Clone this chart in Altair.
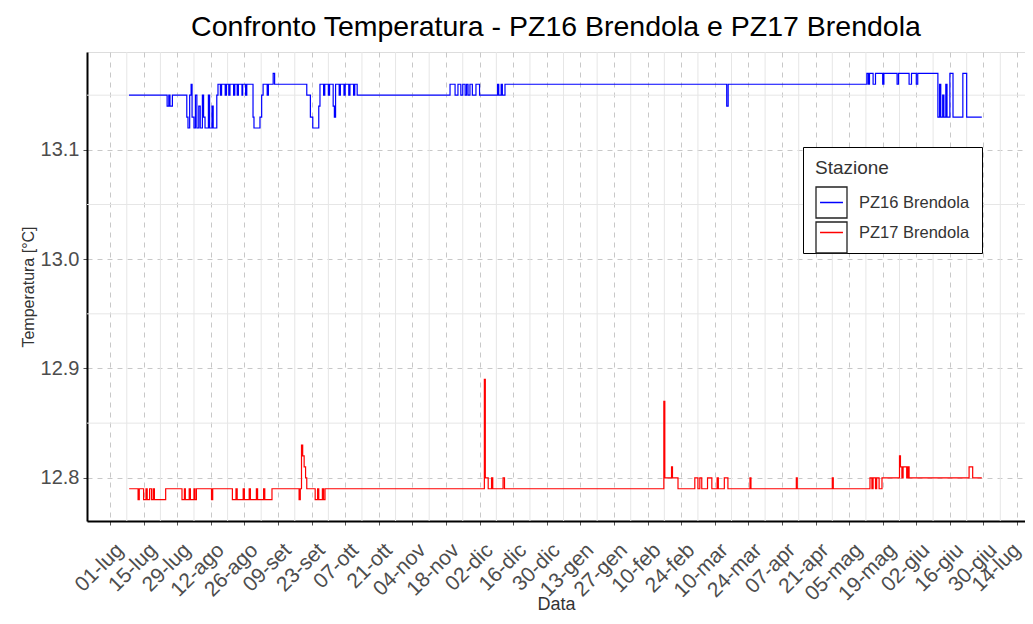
import altair as alt
import pandas as pd

START = pd.Timestamp("2022-07-01")

# ---- data (day offset from 01-lug, temperature), step changes ----
pz16_days = [7.9, 23.8, 24.5, 25.0, 26.0, 32.0, 32.5, 33.2, 33.8, 34.2, 35.0, 35.6, 36.2, 37.0,
             37.6, 38.5, 39.0, 39.6, 41.0, 41.5, 42.5, 43.0, 44.5, 45.0, 46.0, 46.5, 48.0, 48.5,
             49.5, 50.0, 51.5, 52.0, 53.0, 53.5, 55.0, 55.3, 56.5, 57.0, 59.6, 60.0, 62.5, 63.2,
             63.8, 65.5, 66.0, 68.0, 68.6, 82.0, 83.5, 84.5, 87.0, 87.5, 89.0, 89.5, 91.0, 91.5,
             93.0, 93.5, 94.0, 95.5, 96.0, 97.5, 98.0, 99.5, 100.0, 101.5, 102.0, 103.0,
             141.7, 143.8, 145.0, 146.2, 147.0, 148.0, 148.6, 149.2, 150.0, 151.0, 152.5, 154.0,
             155.5, 161.5, 162.0, 163.0, 163.5, 164.6,
             257.0, 257.6, 315.4, 316.0, 316.5, 318.0, 319.0, 322.0, 322.5, 328.0, 328.6, 333.0,
             334.0, 336.0, 336.6, 345.0, 345.7, 346.2, 347.0, 347.5, 348.3, 348.8, 350.0, 351.3,
             355.4, 357.0, 363.3]
pz16_vals = [13.15, 13.14, 13.15, 13.14, 13.15, 13.13, 13.12, 13.15, 13.16, 13.13, 13.12, 13.15, 13.12, 13.14,
             13.12, 13.15, 13.13, 13.12, 13.15, 13.12, 13.14, 13.12, 13.15, 13.16, 13.15, 13.16, 13.15, 13.16,
             13.15, 13.16, 13.15, 13.16, 13.15, 13.16, 13.15, 13.16, 13.15, 13.16, 13.13, 13.12, 13.13, 13.15,
             13.16, 13.15, 13.16, 13.17, 13.16, 13.15, 13.13, 13.12, 13.14, 13.16, 13.15, 13.16, 13.15, 13.16,
             13.14, 13.13, 13.16, 13.15, 13.16, 13.15, 13.16, 13.15, 13.16, 13.15, 13.16, 13.15,
             13.16, 13.15, 13.16, 13.15, 13.16, 13.15, 13.16, 13.15, 13.16, 13.15, 13.16, 13.15,
             13.15, 13.16, 13.15, 13.16, 13.15, 13.16,
             13.14, 13.16, 13.17, 13.16, 13.17, 13.16, 13.17, 13.16, 13.17, 13.16, 13.17, 13.16,
             13.17, 13.16, 13.17, 13.13, 13.16, 13.13, 13.15, 13.13, 13.16, 13.13, 13.17, 13.13,
             13.17, 13.13, 13.13]

pz17_days = [8.0, 11.7, 12.2, 14.0, 15.0, 15.5, 16.5, 17.3, 18.0, 18.5, 23.2, 30.0, 31.0, 31.4,
             33.0, 33.5, 35.0, 35.4, 36.0, 42.3, 42.8, 51.0, 52.5, 53.0, 55.5, 56.0, 58.0, 58.5,
             61.0, 61.5, 64.0, 64.5, 67.5, 78.8, 79.3, 79.8, 80.3, 80.9, 81.5, 82.0, 85.5, 86.5,
             87.0, 88.5, 89.0, 89.6, 156.0, 156.4, 157.6, 159.0, 159.5, 163.8, 164.4,
             230.8, 231.2, 234.0, 234.4, 236.7, 243.7, 245.0, 245.8, 246.6, 249.0, 250.8, 253.0,
             253.5, 256.0, 257.5, 266.7, 267.1, 286.0, 286.4, 301.0, 301.4, 316.7, 317.5, 318.0,
             319.0, 319.5, 320.5, 321.7, 329.0, 329.4, 330.0, 330.5, 332.0, 332.5, 333.0, 358.0,
             359.5, 363.3]
pz17_vals = [12.79, 12.78, 12.79, 12.78, 12.79, 12.78, 12.79, 12.78, 12.79, 12.78, 12.79, 12.78, 12.79, 12.78,
             12.79, 12.78, 12.79, 12.78, 12.79, 12.78, 12.79, 12.78, 12.79, 12.78, 12.79, 12.78, 12.79, 12.78,
             12.79, 12.78, 12.79, 12.78, 12.79, 12.78, 12.79, 12.83, 12.82, 12.81, 12.80, 12.79, 12.78, 12.79,
             12.78, 12.79, 12.78, 12.79, 12.89, 12.80, 12.79, 12.80, 12.79, 12.80, 12.79,
             12.87, 12.80, 12.81, 12.80, 12.79, 12.80, 12.79, 12.80, 12.79, 12.80, 12.79, 12.80,
             12.79, 12.80, 12.79, 12.80, 12.79, 12.80, 12.79, 12.80, 12.79, 12.80, 12.79, 12.80,
             12.79, 12.80, 12.79, 12.80, 12.82, 12.81, 12.80, 12.81, 12.80, 12.81, 12.80, 12.81,
             12.80, 12.80]

stations = ["PZ16 Brendola", "PZ17 Brendola"]
key_ids = ["k16", "k17"]
colors = ["#0000ff", "#ff0000"]
month_it = ["gen", "feb", "mar", "apr", "mag", "giu", "lug", "ago", "set", "ott", "nov", "dic"]
major_tick_days = [14 * k for k in range(28)]          # 01-lug ... 14-lug
minor_tick_days = [7 + 14 * k for k in range(27)]      # in-between gridlines
y_major = [12.8, 12.9, 13.0, 13.1]
y_minor = [12.85, 12.95, 13.05, 13.15]


def ms(day):
    return int((START + pd.to_timedelta(day, unit="D")).value // 10**6)


rows = []
for name, key, days, vals in [(stations[0], key_ids[0], pz16_days, pz16_vals),
                              (stations[1], key_ids[1], pz17_days, pz17_vals)]:
    for d, v in zip(days, vals):
        rows.append({"t": ms(d), "Temperatura": v, "Stazione": name, "Chiave": key})
df = pd.DataFrame(rows)

vx = pd.DataFrame({"t": [ms(d) for d in minor_tick_days]})
hy = pd.DataFrame({"Temperatura": y_minor})

FONT = "Liberation Sans"
xscale = alt.Scale(type="utc", domain=[ms(-9.585), ms(381.3)], nice=False)
yscale = alt.Scale(domain=[12.7605, 13.1895], nice=False, zero=False)

label_expr = ("utcFormat(datum.value, '%d') + '-' + " + str(month_it) + "[utcmonth(datum.value)]")
last_label_offset = {"condition": {"test": f"datum.value > {ms(370)}", "value": -8}, "value": 2}

xaxis = alt.Axis(values=[ms(d) for d in major_tick_days], labelExpr=label_expr,
                 labelAngle=-45, labelAlign="right", labelBaseline="top",
                 labelFontSize=21, labelColor="#4d4d4d", labelFont=FONT, labelPadding=14,
                 labelOffset=last_label_offset,
                 labelOverlap=False, labelFlush=False,
                 title="Data", titleFontSize=18, titleFontWeight="normal", titleFont=FONT,
                 titleColor="#333333", titleY=74,
                 domainColor="black", domainWidth=2, tickColor="#555555", tickSize=4,
                 grid=True, gridColor="#c8c8c8", gridDash=[5, 5], gridWidth=1)
yaxis = alt.Axis(values=y_major, format=".1f",
                 labelFontSize=20, labelColor="#4d4d4d", labelFont=FONT, labelPadding=4,
                 title="Temperatura [°C]", titleFontSize=16, titleFontWeight="normal", titleFont=FONT,
                 titleColor="#333333", titlePadding=4,
                 domainColor="black", domainWidth=2, tickColor="#555555", tickSize=4,
                 grid=True, gridColor="#c8c8c8", gridDash=[5, 5], gridWidth=1)

vgrid = alt.Chart(vx).mark_rule(color="#e6e6e6", strokeWidth=1).encode(
    x=alt.X("t:T", scale=xscale, axis=xaxis))
hgrid = alt.Chart(hy).mark_rule(color="#e6e6e6", strokeWidth=1).encode(
    y=alt.Y("Temperatura:Q", scale=yscale, axis=yaxis))

lines = alt.Chart(df).mark_line(interpolate="step-after", strokeWidth=1.2, clip=True).encode(
    x=alt.X("t:T", scale=xscale, axis=xaxis),
    y=alt.Y("Temperatura:Q", scale=yscale, axis=yaxis),
    color=alt.Color("Stazione:N", scale=alt.Scale(domain=stations, range=colors),
                    legend=alt.Legend(orient="none", legendX=716, legendY=95, title="Stazione",
                                      titleFontSize=19, titleFontWeight="normal", titleFont=FONT,
                                      titleColor="#333333", titlePadding=8,
                                      labelFontSize=16.5, labelFont=FONT, labelColor="#333333",
                                      labelOffset=11, symbolType="M-0.74,0H0.74", symbolSize=961,
                                      symbolStrokeWidth=1.5, symbolOffset=0, rowPadding=5,
                                      strokeColor="black", fillColor="white", padding=12,
                                      cornerRadius=0)),
)

# invisible layer that only provides the framed legend keys
keys = alt.Chart(df).mark_point(opacity=0).encode(
    x=alt.X("t:T", scale=xscale, axis=xaxis),
    y=alt.Y("Temperatura:Q", scale=yscale, axis=yaxis),
    shape=alt.Shape("Chiave:N", scale=alt.Scale(domain=key_ids, range=["square", "square"]),
                    legend=alt.Legend(orient="none", legendX=728, legendY=134, title=None,
                                      labelExpr="''", labelFontSize=1, labelOffset=0,
                                      symbolType="square", symbolSize=961, symbolOpacity=1,
                                      symbolStrokeColor="#222222", symbolFillColor="transparent",
                                      symbolStrokeWidth=1.3, symbolOffset=0, rowPadding=-8,
                                      padding=0)),
)

chart = alt.layer(vgrid, hgrid, lines, keys).properties(
    width=938, height=469,
    padding={"left": 79, "top": 44, "right": 0, "bottom": 95},
    autosize=alt.AutoSizeParams(type="none"),
    title=alt.TitleParams("Confronto Temperatura - PZ16 Brendola e PZ17 Brendola",
                          fontSize=28.5, font=FONT, fontWeight="normal", color="black",
                          anchor="middle", offset=10),
).configure_view(stroke="#d9d9d9", strokeWidth=1).configure(background="white")

chart.save("out.html", embed_options={"renderer": "svg", "actions": False})
